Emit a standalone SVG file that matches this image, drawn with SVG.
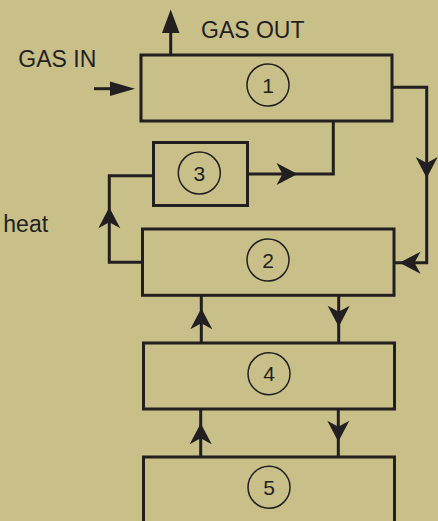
<svg xmlns="http://www.w3.org/2000/svg" xmlns:xlink="http://www.w3.org/1999/xlink" width="438" height="521" viewBox="0 0 438 521">
<style>
.box{fill:#C9BF89;stroke:#231F20;stroke-width:3}
.circ{fill:none;stroke:#231F20;stroke-width:1.5}
.num{font-family:"Liberation Sans",Arial,sans-serif;font-size:21px;fill:#231F20;text-anchor:middle}
.lbl{font-family:"Liberation Sans",Arial,sans-serif;font-size:23px;fill:#231F20}
.wire{fill:none;stroke:#231F20;stroke-width:3;stroke-linejoin:miter}
.head{fill:#231F20}
</style>
<defs>
<path id="barb" d="M0,0 L-21,-11 L-15,0 L-21,11 Z"/>
</defs>
<rect width="438" height="521" fill="#C9BF89"/>
<g id="connectors">
<line class="wire" x1="170.7" y1="55" x2="170.7" y2="31"/>
<polygon class="head" points="170.7,9.5 162,33 179.5,33"/>
<line class="wire" x1="94" y1="88.7" x2="112" y2="88.7"/>
<polygon class="head" points="135,88.7 110,81.5 110,96"/>
<polyline class="wire" points="392,87.3 426.7,87.3 426.7,262.7 394,262.7"/>
<use href="#barb" class="head" transform="translate(426.7,178) rotate(90)"/>
<use href="#barb" class="head" transform="translate(399.5,262.7) rotate(180)"/>
<polyline class="wire" points="333.3,121 333.3,174 248,174"/>
<use href="#barb" class="head" transform="translate(297.5,174)"/>
<polyline class="wire" points="153.5,175.7 109.3,175.7 109.3,262.3 142.5,262.3"/>
<use href="#barb" class="head" transform="translate(109.3,207.3) rotate(-90)"/>
<line class="wire" x1="201.3" y1="343" x2="201.3" y2="295.3"/>
<use href="#barb" class="head" transform="translate(201.3,308.3) rotate(-90)"/>
<line class="wire" x1="338.7" y1="295.3" x2="338.7" y2="343"/>
<use href="#barb" class="head" transform="translate(338.7,326.7) rotate(90)"/>
<line class="wire" x1="200.7" y1="457" x2="200.7" y2="409"/>
<use href="#barb" class="head" transform="translate(200.7,423.3) rotate(-90)"/>
<line class="wire" x1="338.3" y1="409" x2="338.3" y2="457"/>
<use href="#barb" class="head" transform="translate(338.3,441.7) rotate(90)"/>
</g>
<g id="labels">
<text class="lbl" x="201" y="37.7">GAS OUT</text>
<text class="lbl" x="18.3" y="66.7">GAS IN</text>
<text class="lbl" x="3.3" y="231.7">heat</text>
</g>
<g id="node1">
<rect class="box" x="141" y="55" width="251" height="66"/>
<circle class="circ" cx="268" cy="85" r="21"/>
<text class="num" x="268" y="92.5">1</text>
</g>
<g id="node3">
<rect class="box" x="153.5" y="142.5" width="94" height="63"/>
<circle class="circ" cx="199.3" cy="173" r="21"/>
<text class="num" x="199.3" y="180.5">3</text>
</g>
<g id="node2">
<rect class="box" x="142.5" y="229" width="251.5" height="66.3"/>
<circle class="circ" cx="268" cy="260" r="21"/>
<text class="num" x="268" y="267.5">2</text>
</g>
<g id="node4">
<rect class="box" x="143.5" y="343" width="251" height="66"/>
<circle class="circ" cx="269" cy="373.7" r="21"/>
<text class="num" x="269" y="381.2">4</text>
</g>
<g id="node5">
<rect class="box" x="143.5" y="457" width="251" height="80"/>
<circle class="circ" cx="269" cy="487.3" r="21"/>
<text class="num" x="269" y="494.8">5</text>
</g>
</svg>
